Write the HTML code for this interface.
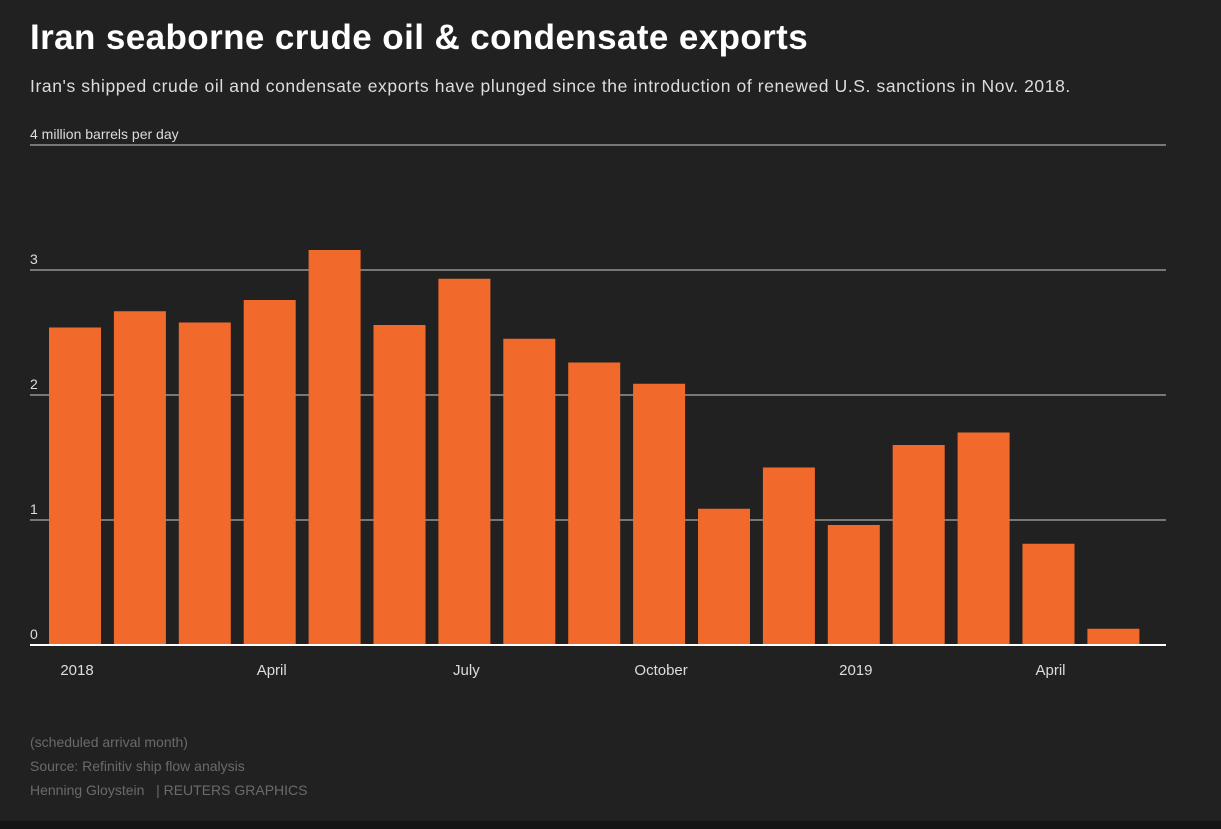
<!DOCTYPE html>
<html><head><meta charset="utf-8"><style>
body{margin:0;background:#212121;width:1221px;height:829px;overflow:hidden;font-family:"Liberation Sans",sans-serif;}
#bg{position:absolute;left:0;top:0;width:1221px;height:821px;background:#212121}
#foot{position:absolute;left:0;top:821px;width:1221px;height:8px;background:#141414}
h1{position:absolute;left:30px;top:18px;margin:0;font-size:35px;font-weight:bold;color:#fff;letter-spacing:0.4px}
.sub{position:absolute;left:30px;top:76px;font-size:17.5px;color:#ddd;letter-spacing:0.6px}
.note{position:absolute;left:30px;font-size:14px;color:#6a6a6a}
</style></head><body>
<div id="bg"></div>
<div id="foot"></div>
<h1>Iran seaborne crude oil &amp; condensate exports</h1>
<div class="sub">Iran's shipped crude oil and condensate exports have plunged since the introduction of renewed U.S. sanctions in Nov. 2018.</div>
<svg id="chart" width="1221" height="829" style="position:absolute;left:0;top:0"></svg>
<div class="note" style="top:734px">(scheduled arrival month)</div>
<div class="note" style="top:758px">Source: Refinitiv ship flow analysis</div>
<div class="note" style="top:782px">Henning Gloystein &nbsp;&nbsp;| REUTERS GRAPHICS</div>
<script>
const months=["Jan18","Feb18","Mar18","Apr18","May18","Jun18","Jul18","Aug18","Sep18","Oct18","Nov18","Dec18","Jan19","Feb19","Mar19","Apr19","May19"];
const values=[2.54,2.67,2.58,2.76,3.16,2.56,2.93,2.45,2.26,2.09,1.09,1.42,0.96,1.6,1.7,0.81,0.13];
const yTicks=[0,1,2,3,4];
const yTickLabels=["0","1","2","3","4 million barrels per day"];
const xLabelIdx=[0,3,6,9,12,15];
const xLabels=["2018","April","July","October","2019","April"];
const ns="http://www.w3.org/2000/svg",svg=document.getElementById("chart");
const y=v=>645-v*125, x0=49, step=64.9, bw=52;
const x=i=>x0+i*step;
function mk(t,a){const e=document.createElementNS(ns,t);for(const k in a)e.setAttribute(k,a[k]);svg.appendChild(e);return e;}
yTicks.forEach((t,i)=>{
 const l=mk("line",{x1:30,x2:1166,y1:y(t),y2:y(t),stroke:t===0?"#fff":"#777","stroke-width":2});
 
 
 const tx=mk("text",{x:30,y:y(t)-6,fill:"#ddd","font-size":14,"font-family":"Liberation Sans, sans-serif"});
 tx.textContent=yTickLabels[i];
 
 
});
values.forEach((v,i)=>{
 const r=mk("rect",{x:x(i),y:y(v),width:bw,height:y(0)-y(v)-1,fill:"#f26a2b"});
 
 
});
xLabelIdx.forEach((idx,i)=>{
 const t=mk("text",{x:x(idx)+bw/2+2,y:675,fill:"#ddd","font-size":15,"text-anchor":"middle","font-family":"Liberation Sans, sans-serif"});
 t.textContent=xLabels[i];
 
 
});
</script>
</body></html>
